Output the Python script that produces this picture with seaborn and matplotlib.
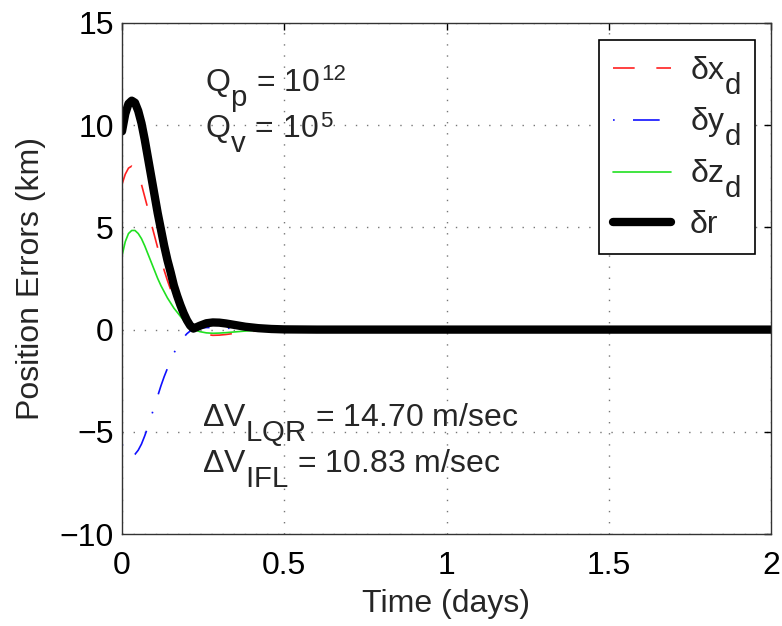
import numpy as np
import pandas as pd
import matplotlib
matplotlib.use("Agg")
import matplotlib.pyplot as plt
import matplotlib._mathtext as _mt
import seaborn as sns

# MATLAB-style subscripts: nearly full size, dropped well below the baseline
_mt.SHRINK_FACTOR = 0.92
_mt.FontConstantsBase.sub1 = 0.9

# ---- data ----
t = [0, 0.01, 0.02, 0.03, 0.04, 0.05, 0.06, 0.07, 0.08, 0.09, 0.10, 0.11, 0.12,
     0.13, 0.14, 0.15, 0.16, 0.17, 0.18, 0.19, 0.20, 0.21, 0.22, 0.24, 0.26, 0.28,
     0.30, 0.32, 0.35, 0.38, 0.42, 0.46, 0.50, 0.60, 0.80, 1.00, 1.50, 2.00]
dx = [7.1, 7.6, 7.9, 8.0, 7.9, 7.6, 7.1, 6.5, 5.9, 5.2, 4.6, 4.0, 3.45, 2.9, 2.4,
      1.95, 1.5, 1.15, 0.85, 0.55, 0.3, 0.12, 0.0, -0.15, -0.24, -0.28, -0.27,
      -0.24, -0.18, -0.12, -0.06, -0.03, -0.01, 0, 0, 0, 0, 0]
dy = [-5.6, -5.95, -6.15, -6.2, -6.1, -5.9, -5.6, -5.2, -4.75, -4.25, -3.75, -3.25,
      -2.75, -2.3, -1.9, -1.5, -1.15, -0.85, -0.6, -0.38, -0.2, -0.07, 0.0, 0.07,
      0.1, 0.1, 0.09, 0.07, 0.05, 0.03, 0.01, 0, 0, 0, 0, 0, 0, 0]
dz = [3.6, 4.3, 4.7, 4.85, 4.85, 4.7, 4.45, 4.1, 3.7, 3.3, 2.9, 2.5, 2.15, 1.85,
      1.55, 1.3, 1.05, 0.85, 0.65, 0.45, 0.28, 0.12, 0.0, -0.1, -0.16, -0.18,
      -0.17, -0.15, -0.11, -0.07, -0.03, -0.01, 0, 0, 0, 0, 0, 0]
dr = [9.7, 10.55, 11.05, 11.2, 11.1, 10.7, 10.1, 9.3, 8.4, 7.5, 6.6, 5.7, 4.9,
      4.1, 3.4, 2.8, 2.15, 1.65, 1.2, 0.8, 0.46, 0.2, 0.05, 0.19, 0.31, 0.35,
      0.34, 0.30, 0.22, 0.14, 0.07, 0.03, 0.01, 0, 0, 0, 0, 0]

series_labels = ["δx$_\\mathregular{d}$", "δy$_\\mathregular{d}$",
                 "δz$_\\mathregular{d}$", "δr"]
xticks = [0, 0.5, 1, 1.5, 2]
xticklabels = ["0", "0.5", "1", "1.5", "2"]
yticks = [-10, -5, 0, 5, 10, 15]

sns.set_style("white")
plt.rcParams["font.family"] = ["Liberation Sans", "DejaVu Sans"]
plt.rcParams["mathtext.fontset"] = "custom"
plt.rcParams["mathtext.rm"] = "Liberation Sans"
plt.rcParams["mathtext.it"] = "Liberation Sans:italic"

FS = 23

fig = plt.figure(figsize=(7.82, 6.26), dpi=100)
ax = fig.add_axes([122 / 782, 1 - 534 / 626, 649 / 782, 511 / 626])

sns.lineplot(x=t, y=dx, ax=ax, color="#ff2020", lw=1.2,
             linestyle=(0, (13, 13)), label=series_labels[0], estimator=None, sort=False)
sns.lineplot(x=t, y=dy, ax=ax, color="#1010ff", lw=1.2,
             linestyle=(0, (1, 11, 16, 11)), label=series_labels[1], estimator=None, sort=False)
sns.lineplot(x=t, y=dz, ax=ax, color="#20e020", lw=1.2,
             linestyle="-", label=series_labels[2], estimator=None, sort=False)
sns.lineplot(x=t, y=dr, ax=ax, color="black", lw=6,
             linestyle="-", label=series_labels[3], estimator=None, sort=False)

ax.set_xlim(0, 2)
ax.set_ylim(-10, 15)
ax.set_xticks(xticks)
ax.set_xticklabels(xticklabels)
ax.set_yticks(yticks)
ax.tick_params(direction="in", top=True, right=True, length=5, width=1,
               labelsize=FS, colors="black")
ax.tick_params(axis="x", pad=12)
ax.tick_params(axis="y", pad=6)
for s in ax.spines.values():
    s.set_color("#333333")
    s.set_linewidth(1.0)
ax.grid(True, color="#777777", linestyle=(0, (1, 7)), linewidth=1.0)

ax.set_xlabel("Time (days)", fontsize=FS, labelpad=6)
ax.set_ylabel("Position Errors (km)", fontsize=FS, labelpad=10)

qp = ax.text(0.255, 11.7, "Q$_\\mathregular{p}$ = 10", fontsize=FS, va="baseline")
ax.annotate("12", xy=(1, 1), xycoords=qp, xytext=(1, 2), textcoords="offset points",
            fontsize=16, va="top", ha="left")
qv = ax.text(0.255, 9.4, "Q$_\\mathregular{v}$ = 10", fontsize=FS, va="baseline")
ax.annotate("5", xy=(1, 1), xycoords=qv, xytext=(1, 2), textcoords="offset points",
            fontsize=16, va="top", ha="left")
ax.text(0.245, -4.7, "ΔV$_\\mathregular{LQR}$ = 14.70 m/sec", fontsize=FS, va="baseline")
ax.text(0.245, -7.0, "ΔV$_\\mathregular{IFL}$ = 10.83 m/sec", fontsize=FS, va="baseline")

leg = ax.legend(loc="upper right", bbox_to_anchor=(0.975, 0.967), borderaxespad=0,
                fontsize=FS, frameon=True, fancybox=False, handlelength=1.8,
                labelspacing=0.3, handletextpad=0.6, borderpad=0.45)
leg.get_frame().set_edgecolor("black")
leg.get_frame().set_linewidth(1.2)
leg.get_frame().set_alpha(1)

fig.savefig("out.png", dpi=100)
